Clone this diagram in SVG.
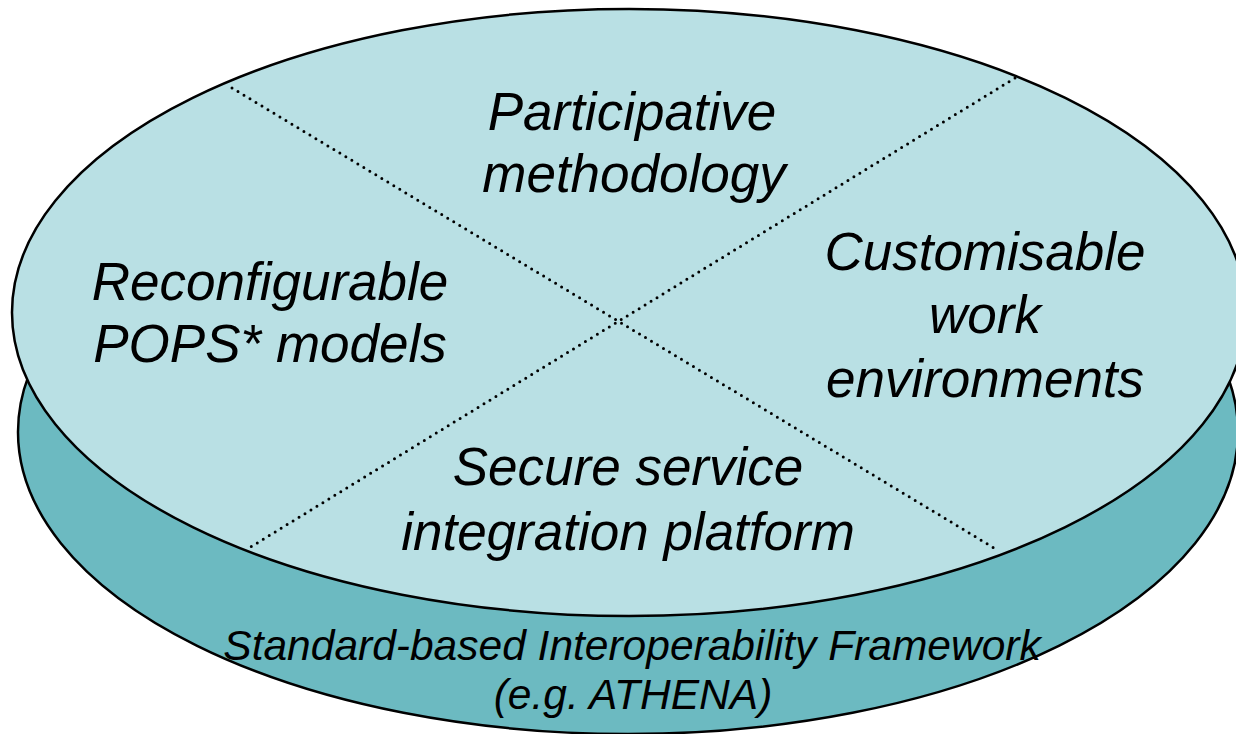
<svg xmlns="http://www.w3.org/2000/svg" width="1236" height="734" viewBox="0 0 1236 734">
  <style>
    .base { fill: #6cbac1; stroke: #000; stroke-width: 2.5; }
    .top { fill: #b9e0e4; stroke: #000; stroke-width: 2.5; }
    .divider { stroke: #000; stroke-width: 3; stroke-linecap: round; stroke-dasharray: 0 7; fill: none; }
    .label { font-family: "Liberation Sans", Arial, sans-serif; font-style: italic; font-size: 53px; fill: #000; text-anchor: middle; }
    .base-label { font-family: "Liberation Sans", Arial, sans-serif; font-style: italic; font-size: 42.5px; fill: #000; text-anchor: middle; }
  </style>
  <rect width="1236" height="734" fill="#ffffff"/>

  <!-- platform base (framework layer) -->
  <g id="framework">
    <ellipse class="base" cx="628" cy="432" rx="610" ry="302"/>
    <text class="base-label" x="632" y="660">Standard-based Interoperability Framework</text>
    <text class="base-label" x="633" y="709">(e.g. ATHENA)</text>
  </g>

  <!-- top disc -->
  <g id="disc">
    <ellipse class="top" cx="629" cy="312.5" rx="617" ry="303.5"/>
  </g>

  <!-- quadrant dividers -->
  <g id="connectors">
    <line class="divider" x1="232" y1="88" x2="999" y2="551"/>
    <line class="divider" x1="1015" y1="78" x2="249" y2="548"/>
  </g>

  <g id="participative">
    <text class="label" x="632" y="130">Participative</text>
    <text class="label" x="634" y="192">methodology</text>
  </g>

  <g id="reconfigurable">
    <text class="label" x="270" y="300">Reconfigurable</text>
    <text class="label" x="270" y="362">POPS* models</text>
  </g>

  <g id="customisable">
    <text class="label" x="985" y="270">Customisable</text>
    <text class="label" x="985" y="333">work</text>
    <text class="label" x="985" y="397">environments</text>
  </g>

  <g id="secure">
    <text class="label" x="628" y="485">Secure service</text>
    <text class="label" x="628" y="550">integration platform</text>
  </g>
</svg>
